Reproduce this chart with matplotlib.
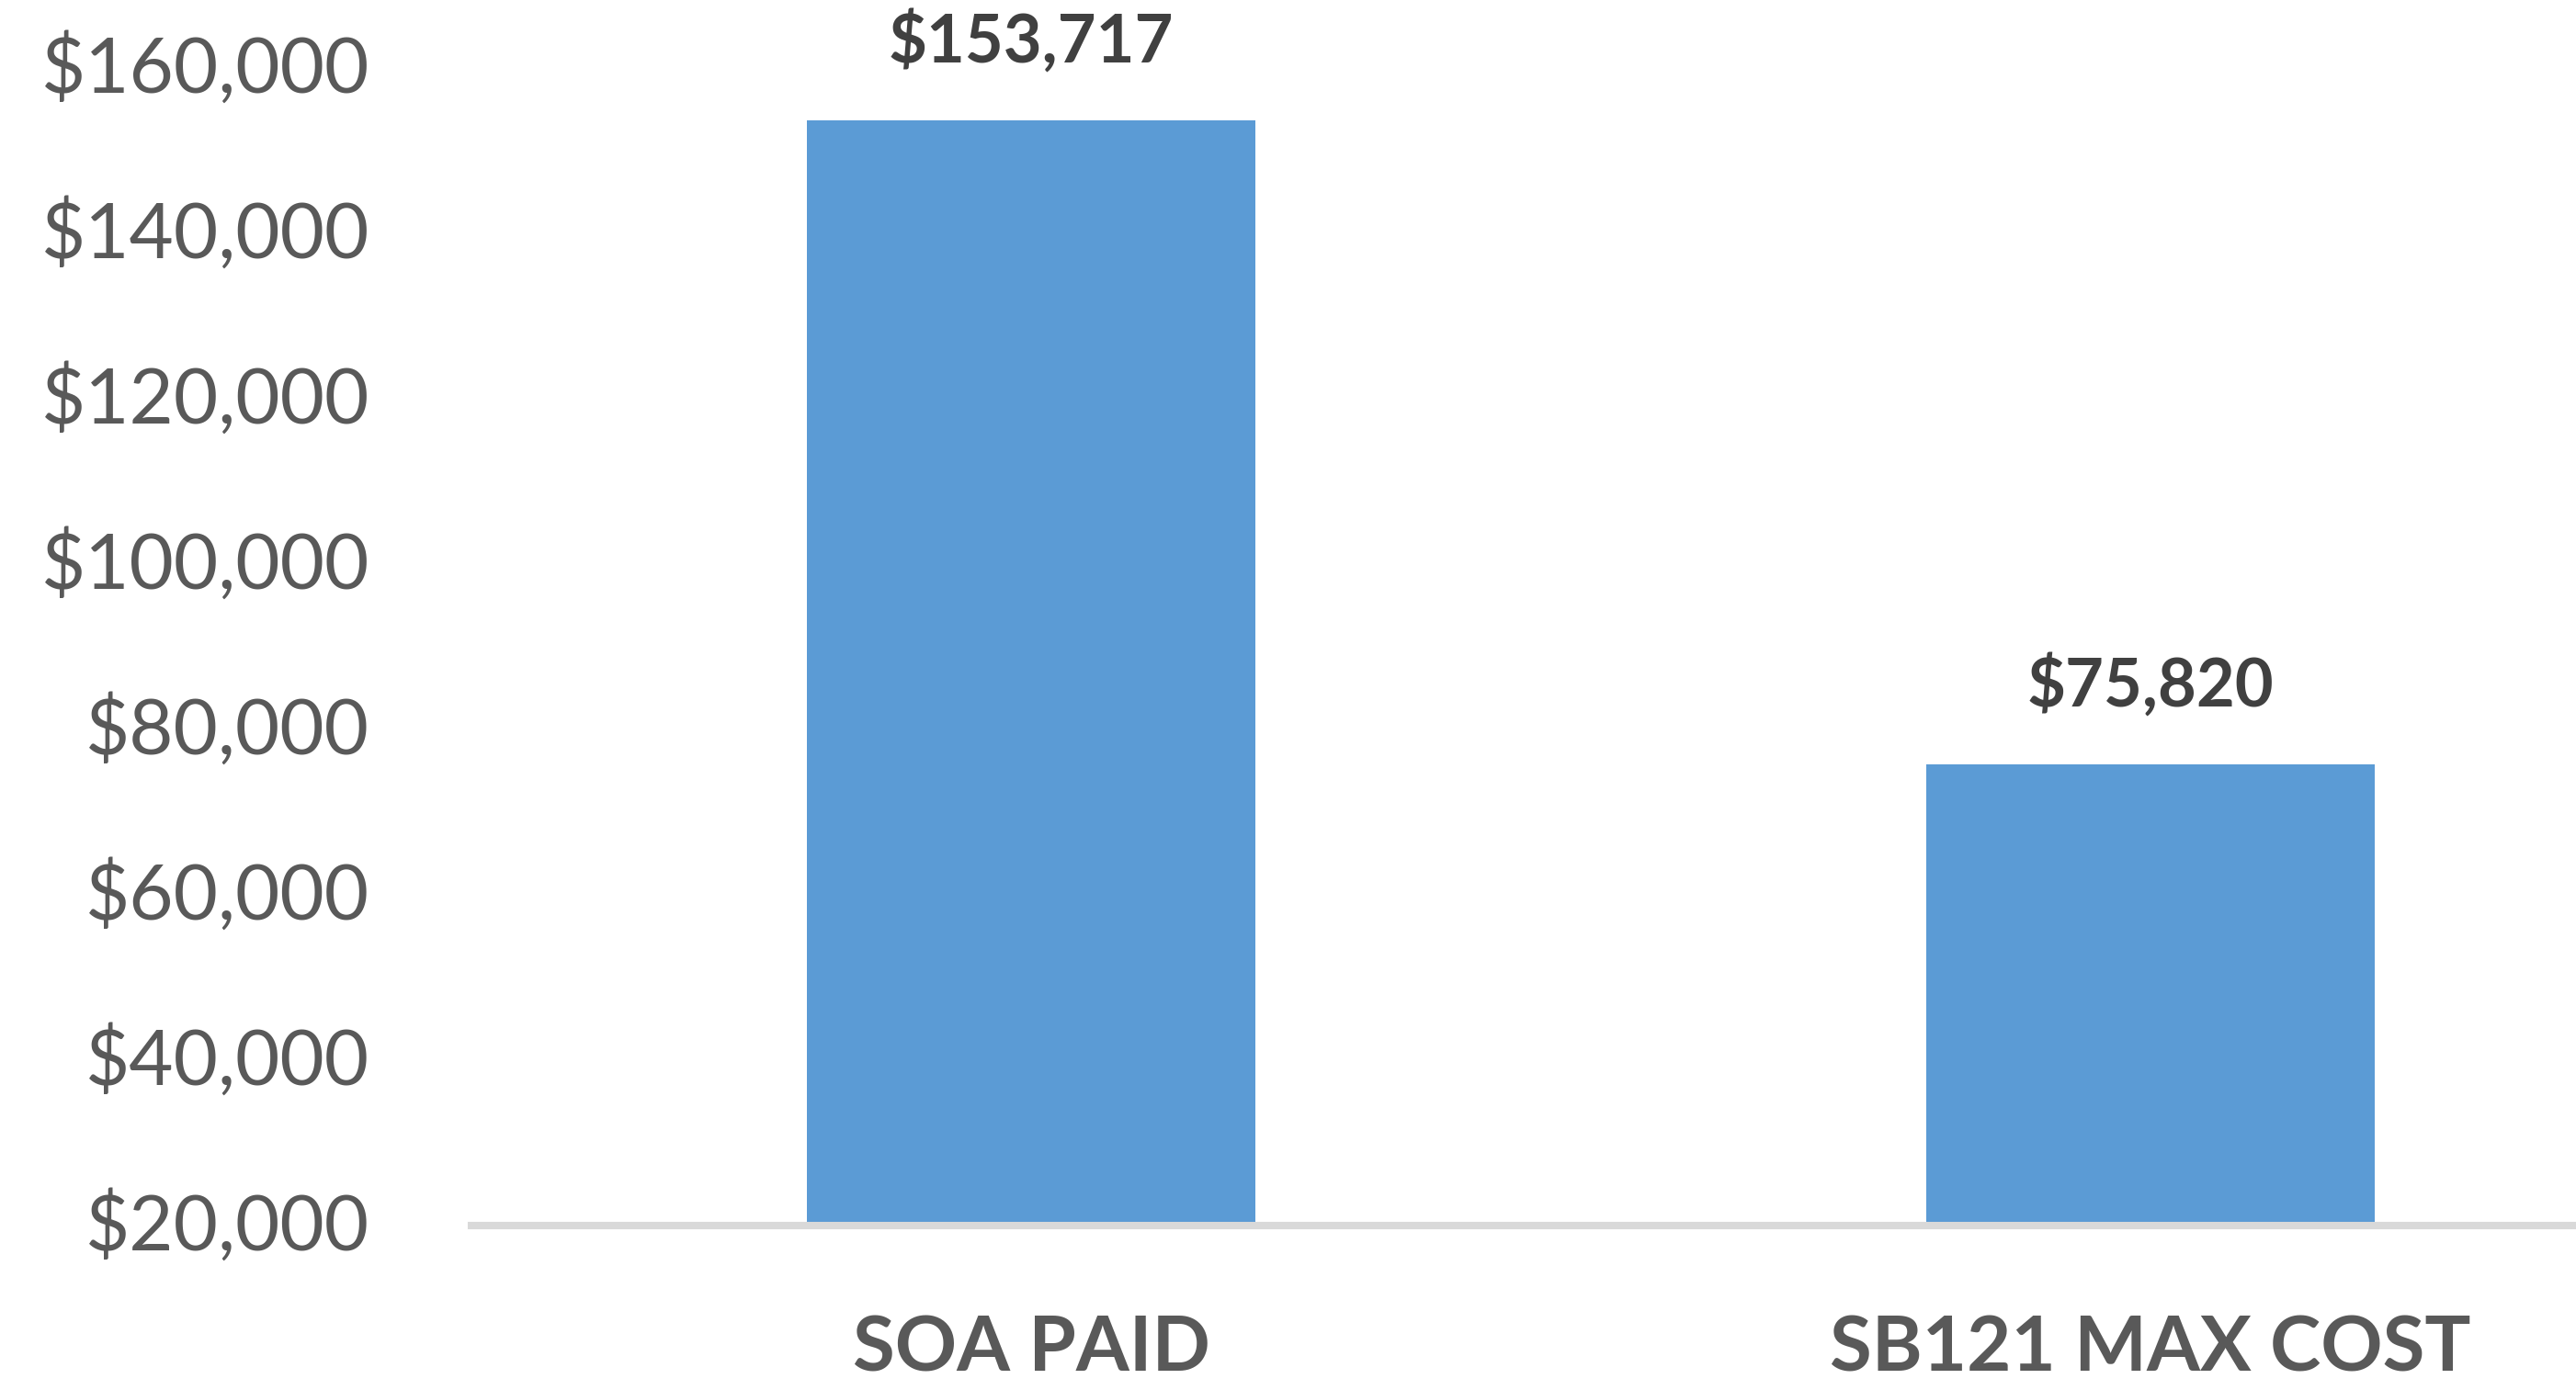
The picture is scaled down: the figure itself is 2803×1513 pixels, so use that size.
import numpy as np
import matplotlib.pyplot as plt
import matplotlib.transforms as mtransforms

categories = ["SOA PAID", "SB121 MAX COST"]
values = [153717, 75820]
yticks = [20000, 40000, 60000, 80000, 100000, 120000, 140000, 160000]

W, H = 2803, 1513
DPI = 100

def main():
	plt.rcParams["font.family"] = ["Lato", "DejaVu Sans"]
	fig = plt.figure(figsize=(W/DPI, H/DPI), dpi=DPI)
	# axes run past the right edge, like the cropped original
	ax = fig.add_axes([513/W, (H-1334)/H, (2949-513)/W, (1334-74)/H])
	x = np.arange(len(categories))
	ax.bar(x, [v-20000 for v in values], bottom=20000, width=0.4, color="#5B9BD5", zorder=2)
	ax.set_xlim(-0.5, 1.5)
	ax.set_ylim(20000, 160000)
	for s in ["top", "right", "left"]:
		ax.spines[s].set_visible(False)
	ax.spines["bottom"].set_color("#D9D9D9")
	ax.spines["bottom"].set_linewidth(5.8)
	ax.spines["bottom"].set_zorder(3)

	ax.set_yticks(yticks)
	ax.set_yticklabels([f"${v:,}" for v in yticks])
	ax.set_xticks(x)
	ax.set_xticklabels(categories, fontweight="bold")
	ax.tick_params(axis="y", length=0, pad=80, labelsize=60, labelcolor="#595959")
	ax.tick_params(axis="x", length=0, pad=70, labelsize=60, labelcolor="#595959")
	# nudge y labels up a little
	up = mtransforms.ScaledTranslation(0, 4/72, fig.dpi_scale_trans)
	for lab in ax.get_yticklabels():
		lab.set_transform(lab.get_transform() + up)

	for xi, v in zip(x, values):
		ax.annotate(f"${v:,}", (xi, v), xytext=(0, 61), textcoords="offset points",
			ha="center", va="center", fontsize=52, fontweight="bold", color="#404040",
			annotation_clip=False)

	plt.savefig("out.png", dpi=DPI)
	plt.close(fig)

if __name__=="__main__":
	main()
